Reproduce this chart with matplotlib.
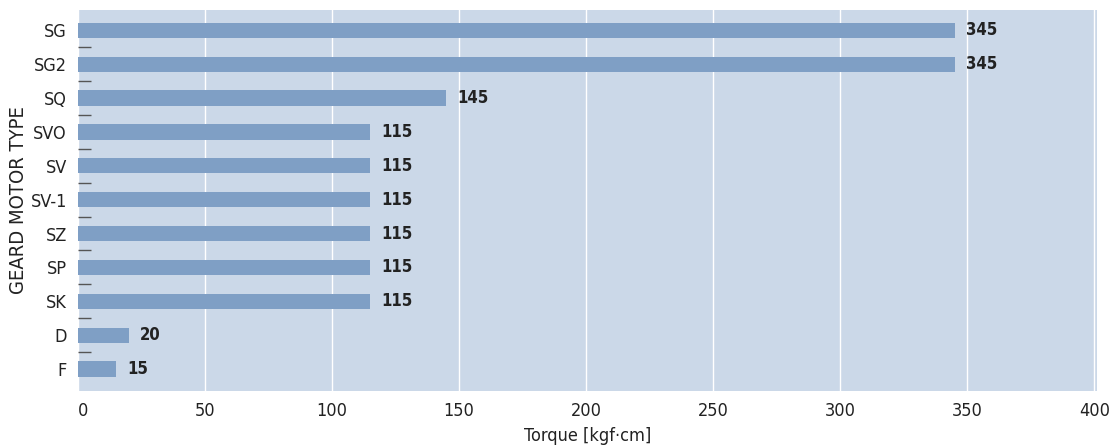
import matplotlib.pyplot as plt
from matplotlib import font_manager as fm
import numpy as np

# chart data
motor_types = ["SG", "SG2", "SQ", "SVO", "SV", "SV-1", "SZ", "SP", "SK", "D", "F"]
torque = [345, 345, 145, 115, 115, 115, 115, 115, 115, 20, 15]
x_ticks = [0, 50, 100, 150, 200, 250, 300, 350, 400]

BG = "#cbd8e8"
BAR = "#7f9fc5"
TXT = "#222222"

# the reference uses a condensed grotesque; take a narrow face if one is installed
names = {f.name for f in fm.fontManager.ttflist}
stretch = "normal"
if "Liberation Sans Narrow" in names:
    family = "Liberation Sans Narrow"
elif any(f.name == "DejaVu Sans" and f.stretch in ("condensed", "semi-condensed")
         for f in fm.fontManager.ttflist):
    family, stretch = "DejaVu Sans", "condensed"
else:
    family = "Liberation Sans"
plt.rcParams['font.family'] = [family, 'DejaVu Sans']
plt.rcParams['font.stretch'] = stretch

fig = plt.figure(figsize=(11.12, 4.48), dpi=100)
ax = fig.add_axes([0.0701, 0.1272, 0.9164, 0.8505])
ax.set_facecolor(BG)

ypos = np.arange(len(motor_types))
ax.barh(ypos, torque, height=0.45, color=BAR, zorder=2)

# value labels right of each bar
for y, v in zip(ypos, torque):
    ax.annotate(str(v), (v, y), xytext=(8, 0), textcoords="offset points",
                ha="left", va="center", fontsize=12, fontweight="bold",
                color=TXT, zorder=3)

ax.set_xlim(0, 401)
ax.set_ylim(len(motor_types) - 0.35, -0.6)
ax.set_xticks(x_ticks)
ax.set_xticklabels([str(t) for t in x_ticks], fontsize=13, color=TXT)
ax.get_xticklabels()[0].set_ha("left")
ax.set_yticks(ypos)
ax.set_yticklabels(motor_types, fontsize=13, color=TXT)
ax.tick_params(axis="both", which="major", length=0)
ax.tick_params(axis="x", pad=8)
ax.tick_params(axis="y", pad=8)

# short dashes between categories
ax.set_yticks(ypos[:-1] + 0.5, minor=True)
ax.tick_params(axis="y", which="minor", direction="in", length=9,
               width=1.0, color="#555555")

ax.grid(axis="x", color="white", linewidth=1.0, zorder=1)
ax.set_axisbelow(True)
for s in ax.spines.values():
    s.set_visible(False)

ax.set_xlabel("Torque [kgf·cm]", fontsize=13, color=TXT, labelpad=5)
ax.set_ylabel("GEARD MOTOR TYPE", fontsize=14.5, color=TXT, labelpad=2)

fig.savefig("out.png", dpi=100)
